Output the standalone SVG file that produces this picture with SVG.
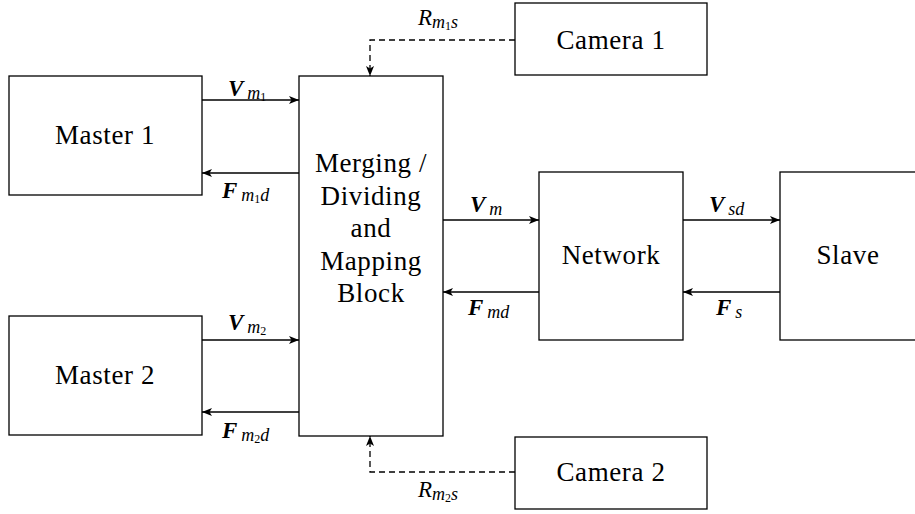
<svg xmlns="http://www.w3.org/2000/svg" width="915" height="514" viewBox="0 0 915 514" font-family="Liberation Serif">
<defs>
<marker id="a" viewBox="0 0 10 8" refX="10" refY="4" markerWidth="10" markerHeight="8" markerUnits="userSpaceOnUse" orient="auto"><path d="M0,0 L10,4 L0,8 L2.5,4 Z" fill="#000"/></marker>
</defs>
<g fill="#fff" stroke="#000" stroke-width="1.3">
<g id="master1"><rect x="9" y="76" width="193" height="119"/><text font-family="Liberation Serif" font-size="27" fill="#000" stroke="none" text-anchor="middle" letter-spacing="0.6" x="105" y="144">Master 1</text></g>
<g id="master2"><rect x="9" y="316" width="193" height="119"/><text font-family="Liberation Serif" font-size="27" fill="#000" stroke="none" text-anchor="middle" letter-spacing="0.6" x="105" y="384">Master 2</text></g>
<g id="block"><rect x="299" y="76" width="144" height="360"/>
<g font-family="Liberation Serif" font-size="27" fill="#000" stroke="none" text-anchor="middle" letter-spacing="0.6">
<text font-family="Liberation Serif" x="371" y="172">Merging /</text>
<text font-family="Liberation Serif" x="371" y="205">Dividing</text>
<text font-family="Liberation Serif" x="371" y="237">and</text>
<text font-family="Liberation Serif" x="371" y="270">Mapping</text>
<text font-family="Liberation Serif" x="371" y="302">Block</text></g></g>
<g id="camera1"><rect x="515" y="3" width="192" height="72"/><text font-family="Liberation Serif" font-size="27" fill="#000" stroke="none" text-anchor="middle" letter-spacing="0.6" x="611" y="49">Camera 1</text></g>
<g id="camera2"><rect x="515" y="437" width="192" height="72"/><text font-family="Liberation Serif" font-size="27" fill="#000" stroke="none" text-anchor="middle" letter-spacing="0.6" x="611" y="481">Camera 2</text></g>
<g id="network"><rect x="539" y="172" width="144" height="168"/><text font-family="Liberation Serif" font-size="27" fill="#000" stroke="none" text-anchor="middle" letter-spacing="0.6" x="611" y="264">Network</text></g>
<g id="slave"><rect x="780" y="172" width="140" height="168"/><text font-family="Liberation Serif" font-size="27" fill="#000" stroke="none" text-anchor="middle" letter-spacing="0.6" x="848" y="264">Slave</text></g>
</g>
<g id="connectors" stroke="#000" stroke-width="1.3" fill="none">
<path d="M202,100 H299" marker-end="url(#a)"/>
<path d="M299,173 H202" marker-end="url(#a)"/>
<path d="M202,340 H299" marker-end="url(#a)"/>
<path d="M299,412 H202" marker-end="url(#a)"/>
<path d="M443,220 H539" marker-end="url(#a)"/>
<path d="M539,292 H443" marker-end="url(#a)"/>
<path d="M683,220 H780" marker-end="url(#a)"/>
<path d="M780,292 H683" marker-end="url(#a)"/>
<path d="M515,40 H370 V76" stroke-dasharray="6,4" marker-end="url(#a)"/>
<path d="M515,472 H370 V436" stroke-dasharray="6,4" marker-end="url(#a)"/>
<g fill="#000" stroke="none" font-family="Liberation Serif" font-style="italic" font-size="18">
<text font-family="Liberation Serif" x="228" y="96"><tspan font-weight="bold" font-size="23">V</tspan><tspan dx="4" dy="3">m</tspan><tspan font-style="normal" font-size="12" dy="2">1</tspan></text>
<text font-family="Liberation Serif" x="222" y="198"><tspan font-weight="bold" font-size="23">F</tspan><tspan dx="4" dy="3">m</tspan><tspan font-style="normal" font-size="12" dy="2">1</tspan><tspan dy="-2">d</tspan></text>
<text font-family="Liberation Serif" x="228" y="330"><tspan font-weight="bold" font-size="23">V</tspan><tspan dx="4" dy="3">m</tspan><tspan font-style="normal" font-size="12" dy="2">2</tspan></text>
<text font-family="Liberation Serif" x="222" y="438"><tspan font-weight="bold" font-size="23">F</tspan><tspan dx="4" dy="3">m</tspan><tspan font-style="normal" font-size="12" dy="2">2</tspan><tspan dy="-2">d</tspan></text>
<text font-family="Liberation Serif" x="470" y="212"><tspan font-weight="bold" font-size="23">V</tspan><tspan dx="4" dy="3">m</tspan></text>
<text font-family="Liberation Serif" x="468" y="315"><tspan font-weight="bold" font-size="23">F</tspan><tspan dx="4" dy="3">md</tspan></text>
<text font-family="Liberation Serif" x="709" y="212"><tspan font-weight="bold" font-size="23">V</tspan><tspan dx="4" dy="3">sd</tspan></text>
<text font-family="Liberation Serif" x="716" y="315"><tspan font-weight="bold" font-size="23">F</tspan><tspan dx="4" dy="3">s</tspan></text>
<text font-family="Liberation Serif" x="418" y="25"><tspan font-size="23">R</tspan><tspan dy="3">m</tspan><tspan font-style="normal" font-size="12" dy="2">1</tspan><tspan dy="-2">s</tspan></text>
<text font-family="Liberation Serif" x="418" y="497"><tspan font-size="23">R</tspan><tspan dy="3">m</tspan><tspan font-style="normal" font-size="12" dy="2">2</tspan><tspan dy="-2">s</tspan></text>
</g>
</g>
</svg>
